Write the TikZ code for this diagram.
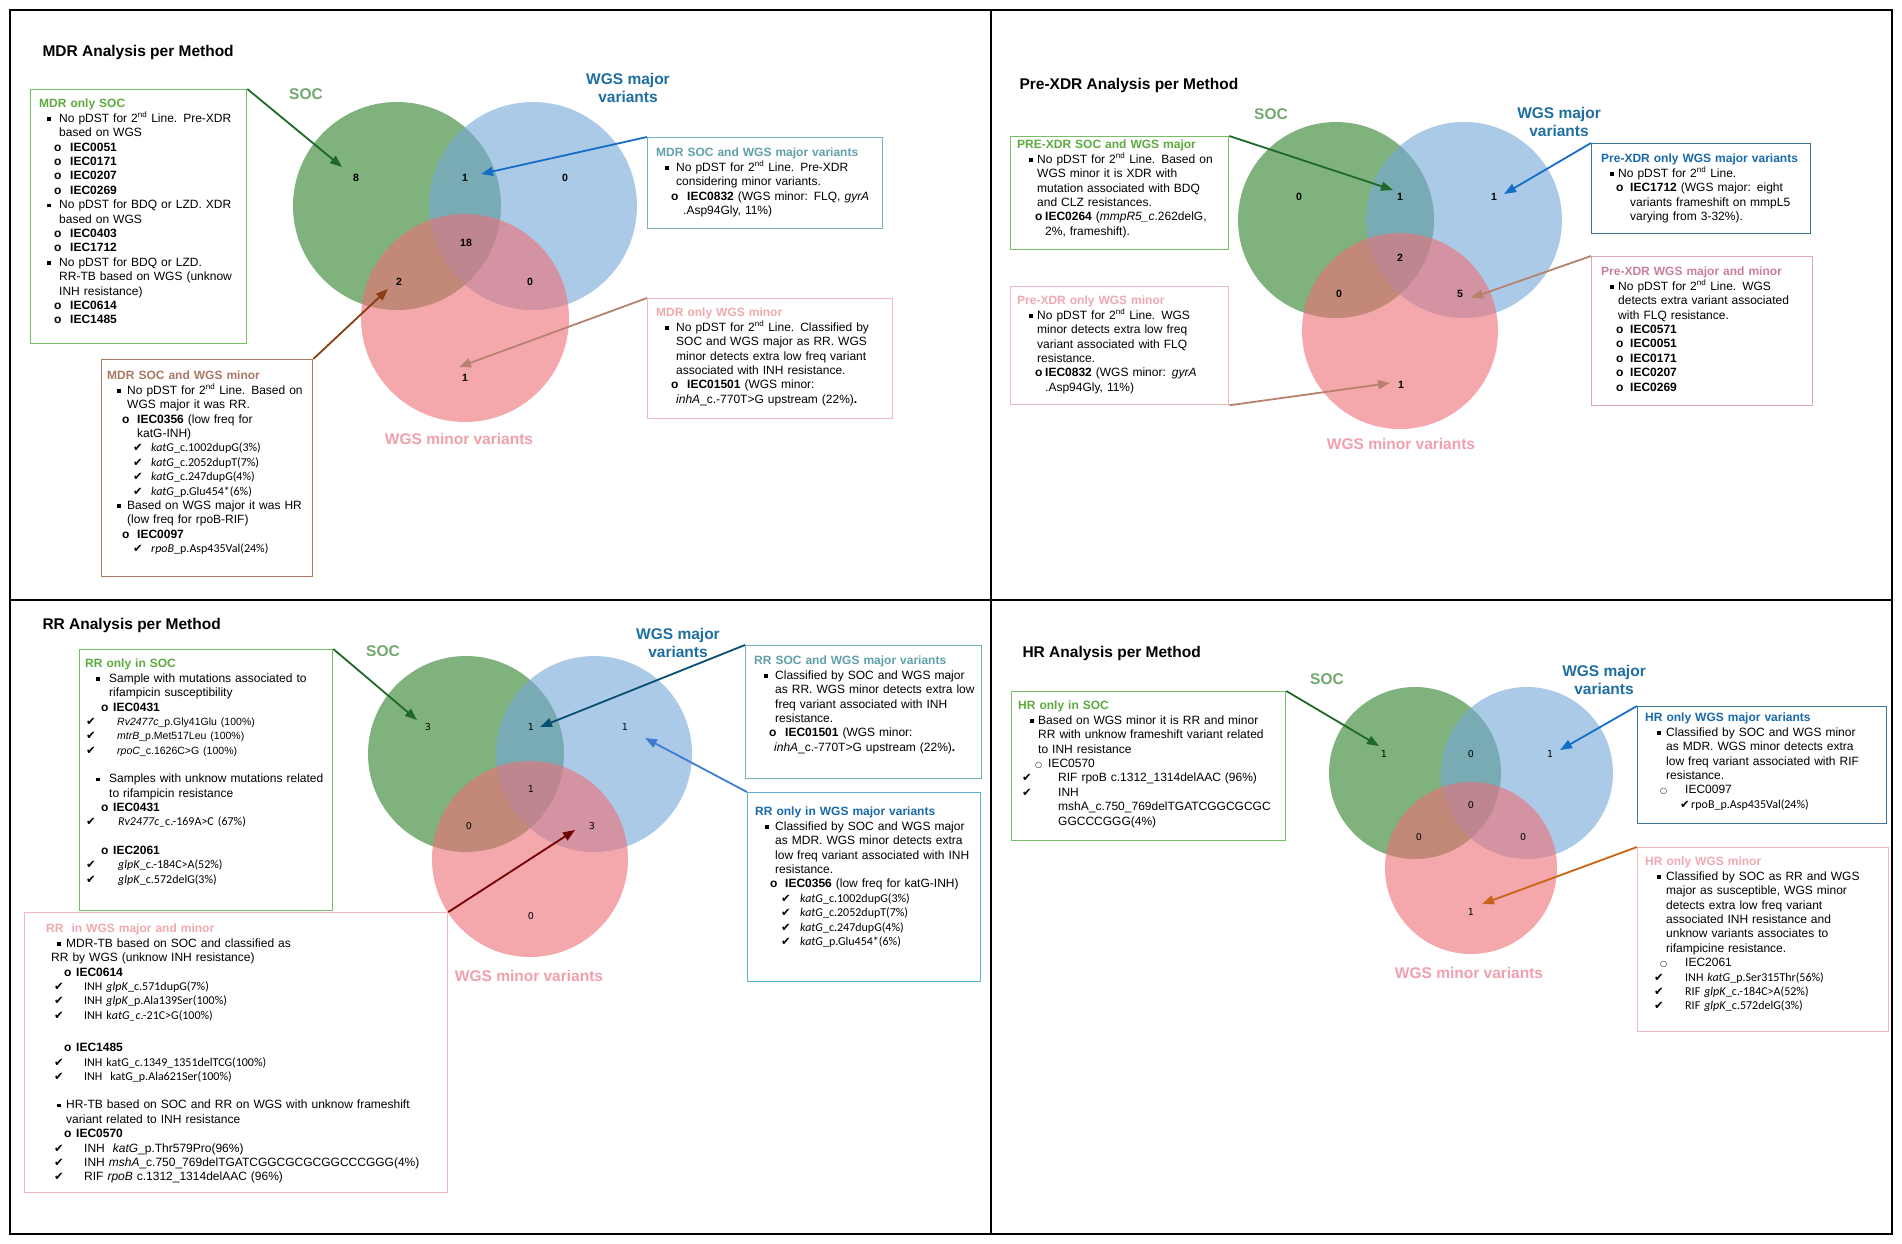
\documentclass[tikz,border=0pt]{standalone}
\usepackage{fontspec}
\setmainfont{Liberation Sans}
\newfontfamily\carl{Carlito}
\newfontfamily\djv{DejaVu Sans}
\usetikzlibrary{arrows.meta}
% colours
\definecolor{gT}{RGB}{92,170,62}
\definecolor{gB}{RGB}{120,190,100}
\definecolor{brT}{RGB}{168,120,100}
\definecolor{tlT}{RGB}{96,160,170}
\definecolor{tlB}{RGB}{120,175,185}
\definecolor{pkT}{RGB}{240,168,176}
\definecolor{pkB}{RGB}{240,185,190}
\definecolor{bluT}{RGB}{25,105,170}
\definecolor{bluB}{RGB}{60,120,150}
\definecolor{cyB}{RGB}{90,180,210}
\definecolor{mvT}{RGB}{200,125,160}
\definecolor{mvB}{RGB}{225,165,185}
\definecolor{cG}{RGB}{42,127,38}
\definecolor{cB}{RGB}{115,167,217}
\definecolor{cP}{RGB}{238,110,117}
\definecolor{socL}{RGB}{112,168,112}
\definecolor{majL}{RGB}{30,110,160}
\definecolor{minL}{RGB}{240,160,172}
\definecolor{arG}{RGB}{30,105,40}
\definecolor{arBr}{RGB}{140,60,20}
\definecolor{arB}{RGB}{20,110,200}
\definecolor{arBr2}{RGB}{180,130,110}
\definecolor{arDR}{RGB}{115,0,0}
\definecolor{arDB}{RGB}{10,80,115}
\definecolor{arB2}{RGB}{60,125,210}
\definecolor{arOr}{RGB}{200,100,20}
% text helpers
\newcommand\Bsq{\rule[1.7pt]{3.5pt}{3.5pt}}
\newcommand\Bo{{\bfseries o}}
\newcommand\Bc{{\djv\fontsize{8}{8}\selectfont ○}}
\newcommand\Ck{{\djv\fontsize{11.5}{10}\selectfont ✔}}
\newcommand\cl{\carl\fontsize{12}{14.4}\selectfont}
\newcommand\smf{\fontsize{10.5}{14.4}\selectfont}
% \Itm[font]{bullet pos}{text pos}{bullet}{text}
\newcommand\Itm[5][]{\par\begingroup#1\hangindent=#3pt\hangafter=1\noindent\hbox to #3pt{\hskip#2pt\relax#4\hfil}\ignorespaces#5\par\endgroup}
\newcommand\Ttl[3]{\noindent\hspace*{#1pt}{\bfseries\color{#2}#3}\par}
\newcommand\nl{\unskip\nobreak\hfil\break}
\newcommand\Gap[1]{\par\vspace*{#1pt}}
\tikzset{
  bx/.style args={#1 by #2}{draw, line width=1.3pt, anchor=north west, inner sep=0pt, minimum width=#1pt, minimum height=#2pt},
  tx/.style={anchor=north west, inner sep=0pt, text width=#1pt, font=\fontsize{12}{14.4}\selectfont},
  arr/.style={line width=1.8pt, -{Triangle[length=12pt,width=9pt]}},
  vlab/.style={font=\bfseries\fontsize{15.5}{18}\selectfont, align=center},
  vnum/.style={font=\bfseries\fontsize{10.5}{12}\selectfont},
  vnumb/.style={font=\djv\fontsize{9.5}{11}\selectfont},
  qttl/.style={anchor=west, font=\bfseries\fontsize{15.5}{18}\selectfont},
  vfill/.style={fill opacity=0.6}
}
\begin{document}
\begin{tikzpicture}[x=1pt,y=-1pt]
\useasboundingbox (0,0) rectangle (1902,1243);
% frame
\draw[line width=2pt] (10,10) rectangle (1892,1234);
\draw[line width=2pt] (991,10) -- (991,1234);
\draw[line width=2pt] (10,600) -- (1892,600);

% ================= Q1 MDR =================
\node[qttl] (t1) at (39,52) {MDR Analysis per Method};
\fill[cG, vfill] (397,206) circle[radius=104pt];
\fill[cB, vfill] (533,206) circle[radius=104pt];
\fill[cP, vfill] (465,318) circle[radius=104pt];
\node[vlab, socL] (l1s) at (306,94) {SOC};
\node[vlab, majL] (l1m) at (628,88) {WGS major\\variants};
\node[vlab, minL] (l1n) at (459,439) {WGS minor variants};
\node[vnum] (n1a) at (356,178) {8};
\node[vnum] (n1b) at (465,178) {1};
\node[vnum] (n1c) at (565,178) {0};
\node[vnum] (n1d) at (466,243) {18};
\node[vnum] (n1e) at (399,282) {2};
\node[vnum] (n1f) at (530,282) {0};
\node[vnum] (n1g) at (465,378) {1};

\node[bx={216 by 254}, draw=gB] (q1a) at (30,89) {};
\node[tx=260] (q1at) at ([shift={(0,10)}]q1a.north west) {%
\Ttl{9}{gT}{MDR only SOC}
\Itm{17}{29}{\Bsq}{No pDST for 2\textsuperscript{nd} Line. Pre-XDR\nl based on WGS}
\Itm{24}{40}{\Bo}{\textbf{IEC0051}}
\Itm{24}{40}{\Bo}{\textbf{IEC0171}}
\Itm{24}{40}{\Bo}{\textbf{IEC0207}}
\Itm{24}{40}{\Bo}{\textbf{IEC0269}}
\Itm{17}{29}{\Bsq}{No pDST for BDQ or LZD. XDR\nl based on WGS}
\Itm{24}{40}{\Bo}{\textbf{IEC0403}}
\Itm{24}{40}{\Bo}{\textbf{IEC1712}}
\Itm{17}{29}{\Bsq}{No pDST for BDQ or LZD.\nl RR-TB based on WGS (unknow\nl INH resistance)}
\Itm{24}{40}{\Bo}{\textbf{IEC0614}}
\Itm{24}{40}{\Bo}{\textbf{IEC1485}}};

\node[bx={211 by 217}, draw=brT] (q1b) at (101,359) {};
\node[tx=250] (q1bt) at ([shift={(0,12)}]q1b.north west) {%
\Ttl{6}{brT}{MDR SOC and WGS minor}
\Itm{16}{26}{\Bsq}{No pDST for 2\textsuperscript{nd} Line. Based on\nl WGS major it was RR.}
\Itm{21}{36}{\Bo}{\textbf{IEC0356} (low freq for\nl katG-INH)}
\Itm[\cl]{32}{50}{\Ck}{\textit{katG}\_c.1002dupG(3\%)}
\Itm[\cl]{32}{50}{\Ck}{\textit{katG}\_c.2052dupT(7\%)}
\Itm[\cl]{32}{50}{\Ck}{\textit{katG}\_c.247dupG(4\%)}
\Itm[\cl]{32}{50}{\Ck}{\textit{katG}\_p.Glu454*(6\%)}
\Itm{16}{26}{\Bsq}{Based on WGS major it was HR\nl (low freq for rpoB-RIF)}
\Itm{21}{36}{\Bo}{\textbf{IEC0097}}
\Itm[\cl]{32}{50}{\Ck}{\textit{rpoB}\_p.Asp435Val(24\%)}};

\node[bx={235 by 91}, draw=tlB] (q1c) at (647,137) {};
\node[tx=280] (q1ct) at ([shift={(0,11)}]q1c.north west) {%
\Ttl{9}{tlT}{MDR SOC and WGS major variants}
\Itm{18}{29}{\Bsq}{No pDST for 2\textsuperscript{nd} Line. Pre-XDR\nl considering minor variants.}
\Itm{24}{40}{\Bo}{\textbf{IEC0832} (WGS minor: FLQ, \textit{gyrA}\nl\hspace*{-4pt}.Asp94Gly, 11\%)}};

\node[bx={245 by 120}, draw=pkB] (q1d) at (647,298) {};
\node[tx=290] (q1dt) at ([shift={(0,10)}]q1d.north west) {%
\Ttl{9}{pkT}{MDR only WGS minor}
\Itm{18}{29}{\Bsq}{No pDST for 2\textsuperscript{nd} Line. Classified by\nl SOC and WGS major as RR. WGS\nl minor detects extra low freq variant\nl associated with INH resistance.}
\Itm{24}{40}{\Bo}{\textbf{IEC01501} (WGS minor:\nl\hspace*{-11pt}\textit{inhA}\_c.-770T>G upstream (22\%)\textbf{.}}};

\coordinate (e1a) at (342,167);
\coordinate (e1b) at (388,289);
\coordinate (e1c) at (481,174);
\coordinate (e1d) at (459,367);
\draw[arr, arG] (q1a.north east) -- (e1a);
\draw[arr, arBr] (q1b.north east) -- (e1b);
\draw[arr, arB] (q1c.north west) -- (e1c);
\draw[arr, arBr2] (q1d.north west) -- (e1d);

% ================= Q2 Pre-XDR =================
\node[qttl] (t2) at (1016,85) {Pre-XDR Analysis per Method};
\fill[cG, vfill] (1336,220) circle[radius=98pt];
\fill[cB, vfill] (1464,220) circle[radius=98pt];
\fill[cP, vfill] (1400,331) circle[radius=98pt];
\node[vlab, socL] (l2s) at (1271,114) {SOC};
\node[vlab, majL] (l2m) at (1559,122) {WGS major\\variants};
\node[vlab, minL] (l2n) at (1401,444) {WGS minor variants};
\node[vnum] (n2a) at (1299,197) {0};
\node[vnum] (n2b) at (1400,197) {1};
\node[vnum] (n2c) at (1494,197) {1};
\node[vnum] (n2d) at (1400,258) {2};
\node[vnum] (n2e) at (1339,294) {0};
\node[vnum] (n2f) at (1460,294) {5};
\node[vnum] (n2g) at (1401,385) {1};

\node[bx={218 by 113}, draw=gB] (q2a) at (1010,136) {};
\node[tx=260] (q2at) at ([shift={(0,4)}]q2a.north west) {%
\Ttl{7}{gT}{PRE-XDR SOC and WGS major}
\Itm{19}{27}{\Bsq}{No pDST for 2\textsuperscript{nd} Line. Based on\nl WGS minor it is XDR with\nl mutation associated with BDQ\nl and CLZ resistances.}
\Itm{25}{35}{\Bo}{\textbf{IEC0264} (\textit{mmpR5\_c}.262delG,\nl 2\%, frameshift).}};

\node[bx={218 by 118}, draw=pkB] (q2b) at (1010,286) {};
\node[tx=260] (q2bt) at ([shift={(0,10)}]q2b.north west) {%
\Ttl{7}{pkT}{Pre-XDR only WGS minor}
\Itm{19}{27}{\Bsq}{No pDST for 2\textsuperscript{nd} Line. WGS\nl minor detects extra low freq\nl variant associated with FLQ\nl resistance.}
\Itm{25}{35}{\Bo}{\textbf{IEC0832} (WGS minor: \textit{gyrA}\nl .Asp94Gly, 11\%)}};

\node[bx={219 by 90}, draw=bluB] (q2c) at (1591,143) {};
\node[tx=260] (q2ct) at ([shift={(0,11)}]q2c.north west) {%
\Ttl{10}{bluT}{Pre-XDR only WGS major variants}
\Itm{19}{27}{\Bsq}{No pDST for 2\textsuperscript{nd} Line.}
\Itm{25}{39}{\Bo}{\textbf{IEC1712} (WGS major: eight\nl variants frameshift on mmpL5\nl varying from 3-32\%).}};

\node[bx={221 by 149}, draw=mvB] (q2d) at (1591,256) {};
\node[tx=260] (q2dt) at ([shift={(0,11)}]q2d.north west) {%
\Ttl{10}{mvT}{Pre-XDR WGS major and minor}
\Itm{19}{27}{\Bsq}{No pDST for 2\textsuperscript{nd} Line. WGS\nl detects extra variant associated\nl with FLQ resistance.}
\Itm{25}{39}{\Bo}{\textbf{IEC0571}}
\Itm{25}{39}{\Bo}{\textbf{IEC0051}}
\Itm{25}{39}{\Bo}{\textbf{IEC0171}}
\Itm{25}{39}{\Bo}{\textbf{IEC0207}}
\Itm{25}{39}{\Bo}{\textbf{IEC0269}}};

\coordinate (e2a) at (1393,190);
\coordinate (e2b) at (1390,383);
\coordinate (e2c) at (1504,194);
\coordinate (e2d) at (1471,298);
\draw[arr, arG] (q2a.north east) -- (e2a);
\draw[arr, arBr2] (q2b.south east) -- (e2b);
\draw[arr, arB] (q2c.north west) -- (e2c);
\draw[arr, arBr2] (q2d.north west) -- (e2d);

% ================= Q3 RR =================
\node[qttl] (t3) at (39,625) {RR Analysis per Method};
\fill[cG, vfill] (466,754) circle[radius=98pt];
\fill[cB, vfill] (594,754) circle[radius=98pt];
\fill[cP, vfill] (530,859) circle[radius=98pt];
\node[vlab, socL] (l3s) at (383,651) {SOC};
\node[vlab, majL] (l3m) at (678,643) {WGS major\\variants};
\node[vlab, minL] (l3n) at (529,976) {WGS minor variants};
\node[vnumb] (n3a) at (428,727) {3};
\node[vnumb] (n3b) at (531,727) {1};
\node[vnumb] (n3c) at (625,727) {1};
\node[vnumb] (n3d) at (531,789) {1};
\node[vnumb] (n3e) at (469,826) {0};
\node[vnumb] (n3f) at (592,826) {3};
\node[vnumb] (n3g) at (531,916) {0};

\node[bx={253 by 261}, draw=gB] (q3a) at (79,649) {};
\node[tx=300] (q3at) at ([shift={(0,10)}]q3a.north west) {%
\Ttl{6}{gT}{RR only in SOC}
\Itm{17}{30}{\Bsq}{Sample with mutations associated to\nl rifampicin susceptibility}
\Itm{22}{34}{\Bo}{\textbf{IEC0431}}
\Itm[\smf]{7}{38}{\Ck}{\textit{Rv2477c}\_p.Gly41Glu (100\%)}
\Itm[\smf]{7}{38}{\Ck}{\textit{mtrB}\_p.Met517Leu (100\%)}
\Itm[\smf]{7}{38}{\Ck}{\textit{rpoC}\_c.1626C>G (100\%)}
\Gap{14}
\Itm{17}{30}{\Bsq}{Samples with unknow mutations related\nl to rifampicin resistance}
\Itm{22}{34}{\Bo}{\textbf{IEC0431}}
\Itm[\cl]{7}{39}{\Ck}{\textit{Rv2477c\_}c.-169A>C (67\%)}
\Gap{14}
\Itm{22}{34}{\Bo}{\textbf{IEC2061}}
\Itm[\cl]{7}{39}{\Ck}{\textit{glpK}\_c.-184C>A(52\%)}
\Itm[\cl]{7}{39}{\Ck}{\textit{glpK}\_c.572delG(3\%)}};

\node[bx={423 by 280}, draw=pkB] (q3b) at (24,912) {};
\node[tx=450] (q3bt) at ([shift={(13,12)}]q3b.north west) {%
\Ttl{9}{pkT}{RR\ \ in WGS major and minor}
\Itm{20}{29}{\Bsq}{MDR-TB based on SOC and classified as\nl\hspace*{-15pt}RR by WGS (unknow INH resistance)}
\Itm{27}{39}{\Bo}{\textbf{IEC0614}}
\Itm[\cl]{17}{47}{\Ck}{INH \textit{glpK}\_c.571dupG(7\%)}
\Itm[\cl]{17}{47}{\Ck}{INH \textit{glpK}\_p.Ala139Ser(100\%)}
\Itm[\cl]{17}{47}{\Ck}{INH k\textit{atG\_c}.-21C>G(100\%)}
\Gap{18}
\Itm{27}{39}{\Bo}{\textbf{IEC1485}}
\Itm[\cl]{17}{47}{\Ck}{INH katG\_c.1349\_1351delTCG(100\%)}
\Itm[\cl]{17}{47}{\Ck}{INH\ \ katG\_p.Ala621Ser(100\%)}
\Gap{14}
\Itm{20}{29}{\Bsq}{HR-TB based on SOC and RR on WGS with unknow frameshift\nl variant related to INH resistance}
\Itm{27}{39}{\Bo}{\textbf{IEC0570}}
\Itm{17}{47}{\Ck}{INH\ \ \textit{katG}\_p.Thr579Pro(96\%)}
\Itm{17}{47}{\Ck}{INH \textit{mshA}\_c.750\_769delTGATCGGCGCGCGGCCCGGG(4\%)}
\Itm{17}{47}{\Ck}{RIF \textit{rpoB} c.1312\_1314delAAC (96\%)}};

\node[bx={236 by 133}, draw=tlB] (q3c) at (745,645) {};
\node[tx=280] (q3ct) at ([shift={(0,11)}]q3c.north west) {%
\Ttl{9}{tlT}{RR SOC and WGS major variants}
\Itm{19}{30}{\Bsq}{Classified by SOC and WGS major\nl as RR. WGS minor detects extra low\nl freq variant associated with INH\nl resistance.}
\Itm{24}{40}{\Bo}{\textbf{IEC01501} (WGS minor:\nl\hspace*{-11pt}\textit{inhA}\_c.-770T>G upstream (22\%)\textbf{.}}};

\node[bx={233 by 189}, draw=cyB] (q3d) at (747,792) {};
\node[tx=280] (q3dt) at ([shift={(0,15)}]q3d.north west) {%
\Ttl{8}{bluT}{RR only in WGS major variants}
\Itm{18}{28}{\Bsq}{Classified by SOC and WGS major\nl as MDR. WGS minor detects extra\nl low freq variant associated with INH\nl resistance.}
\Itm{23}{38}{\Bo}{\textbf{IEC0356} (low freq for katG-INH)}
\Itm[\cl]{34}{53}{\Ck}{\textit{katG}\_c.1002dupG(3\%)}
\Itm[\cl]{34}{53}{\Ck}{\textit{katG}\_c.2052dupT(7\%)}
\Itm[\cl]{34}{53}{\Ck}{\textit{katG}\_c.247dupG(4\%)}
\Itm[\cl]{34}{53}{\Ck}{\textit{katG}\_p.Glu454*(6\%)}};

\coordinate (e3a) at (417,720);
\coordinate (e3b) at (575,830);
\coordinate (e3c) at (540,727);
\coordinate (e3d) at (645,738);
\draw[arr, arG] (q3a.north east) -- (e3a);
\draw[arr, arDR] (q3b.north east) -- (e3b);
\draw[arr, arDB] (q3c.north west) -- (e3c);
\draw[arr, arB2] (q3d.north west) -- (e3d);

% ================= Q4 HR =================
\node[qttl] (t4) at (1019,653) {HR Analysis per Method};
\fill[cG, vfill] (1415,773) circle[radius=86pt];
\fill[cB, vfill] (1527,773) circle[radius=86pt];
\fill[cP, vfill] (1471,868) circle[radius=86pt];
\node[vlab, socL] (l4s) at (1327,679) {SOC};
\node[vlab, majL] (l4m) at (1604,680) {WGS major\\variants};
\node[vlab, minL] (l4n) at (1469,973) {WGS minor variants};
\node[vnumb] (n4a) at (1384,754) {1};
\node[vnumb] (n4b) at (1471,754) {0};
\node[vnumb] (n4c) at (1550,754) {1};
\node[vnumb] (n4d) at (1471,805) {0};
\node[vnumb] (n4e) at (1419,837) {0};
\node[vnumb] (n4f) at (1523,837) {0};
\node[vnumb] (n4g) at (1471,912) {1};

\node[bx={274 by 149}, draw=gB] (q4a) at (1011,691) {};
\node[tx=320] (q4at) at ([shift={(0,10)}]q4a.north west) {%
\Ttl{7}{gT}{HR only in SOC}
\Itm{19}{27}{\Bsq}{Based on WGS minor it is RR and minor\nl RR with unknow frameshift variant related\nl to INH resistance}
\Itm{24}{37}{\Bc}{IEC0570}
\Itm{11}{47}{\Ck}{RIF rpoB c.1312\_1314delAAC (96\%)}
\Itm{11}{47}{\Ck}{INH\nl mshA\_c.750\_769delTGATCGGCGCGC\nl GGCCCGGG(4\%)}};

\node[bx={249 by 117}, draw=bluB] (q4b) at (1637,706) {};
\node[tx=290] (q4bt) at ([shift={(0,7)}]q4b.north west) {%
\Ttl{8}{bluT}{HR only WGS major variants}
\Itm{20}{29}{\Bsq}{Classified by SOC and WGS minor\nl as MDR. WGS minor detects extra\nl low freq variant associated with RIF\nl resistance.}
\Itm{23}{48}{\Bc}{IEC0097}
\Itm[\cl]{43}{54}{\Ck}{rpoB\_p.Asp435Val(24\%)}};

\node[bx={251 by 184}, draw=pkB] (q4c) at (1637,847) {};
\node[tx=290] (q4ct) at ([shift={(0,10)}]q4c.north west) {%
\Ttl{8}{pkT}{HR only WGS minor}
\Itm{20}{29}{\Bsq}{Classified by SOC as RR and WGS\nl major as susceptible, WGS minor\nl detects extra low freq variant\nl associated INH resistance and\nl unknow variants associates to\nl rifampicine resistance.}
\Itm{23}{48}{\Bc}{IEC2061}
\Itm[\cl]{17}{48}{\Ck}{INH \textit{katG}\_p.Ser315Thr(56\%)}
\Itm[\cl]{17}{48}{\Ck}{RIF \textit{glpK}\_c.-184C>A(52\%)}
\Itm[\cl]{17}{48}{\Ck}{RIF \textit{glpK}\_c.572delG(3\%)}};

\coordinate (e4a) at (1379,746);
\coordinate (e4b) at (1560,750);
\coordinate (e4c) at (1482,904);
\draw[arr, arG] (q4a.north east) -- (e4a);
\draw[arr, arB] (q4b.north west) -- (e4b);
\draw[arr, arOr] (q4c.north west) -- (e4c);
\end{tikzpicture}
\end{document}
